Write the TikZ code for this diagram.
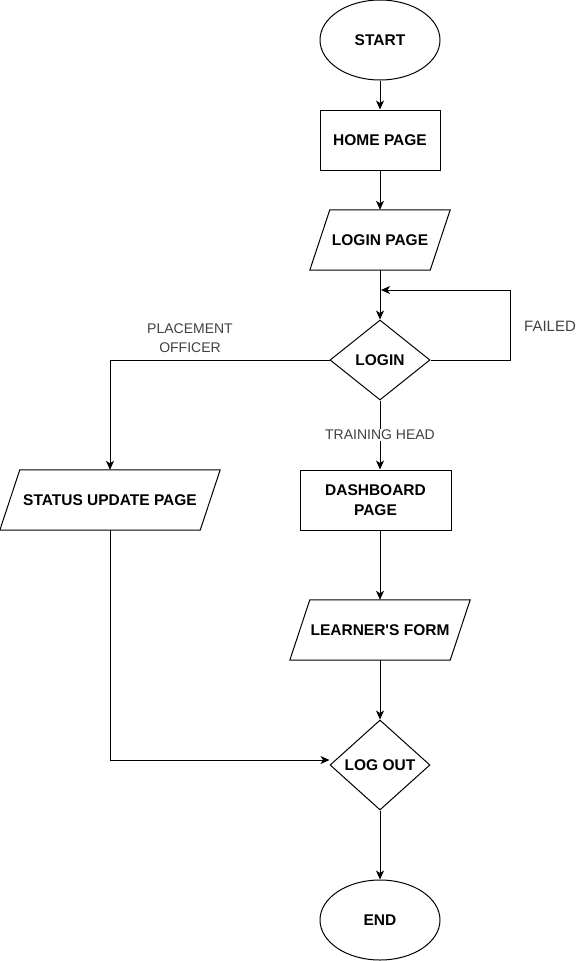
\documentclass[tikz,border=0pt]{standalone}
\usepackage{fontspec}
\setmainfont{Liberation Sans}
\newfontfamily\plainsans{Liberation Sans}
\usetikzlibrary{shapes.geometric,arrows.meta,calc}
\definecolor{lblgray}{HTML}{404040}
\tikzset{
  lbl/.style={font=\fontsize{15.5}{19.5}\selectfont\bfseries, text=black, inner sep=0pt, align=center},
  term/.style={lbl, ellipse, draw, line width=1pt, minimum width=120pt, minimum height=80pt},
  procbox/.style={lbl, rectangle, draw, line width=1pt, minimum height=60pt},
  iobox/.style={lbl, rectangle, minimum height=60pt},
  decide/.style={lbl, diamond, draw, line width=1pt, aspect=1.1, minimum width=100pt},
  conn/.style={line width=1pt, -{Stealth[length=9pt,width=8pt,inset=2.5pt]}},
  edgelbl/.style={font=\fontsize{14}{19}\selectfont, text=lblgray, inner sep=1pt, align=center},
}
\newcommand{\paral}[1]{\draw[line width=1pt] (#1.south west) -- ([xshift=20pt]#1.north west) -- (#1.north east) -- ([xshift=-20pt]#1.south east) -- cycle;}
\begin{document}
\begin{tikzpicture}[x=1pt,y=-1pt]
\useasboundingbox (0,0) rectangle (581,961);
\node[term] (start) at (380,40) {START};
\node[procbox, minimum width=120pt] (home) at (380,140) {HOME PAGE};
\node[iobox, minimum width=140pt] (lpage) at (380,240) {LOGIN PAGE};
\paral{lpage}
\node[decide, minimum height=80pt] (login) at (380,360) {LOGIN};
\node[iobox, minimum width=220pt] (status) at (110,500) {STATUS UPDATE PAGE};
\paral{status}
\node[procbox, minimum width=151pt] (dash) at (375.5,500) {DASHBOARD\\PAGE};
\node[iobox, minimum width=180pt] (learner) at (380,630) {LEARNER{\plainsans'}S FORM};
\paral{learner}
\node[decide, minimum height=90pt] (logout) at (380,765) {LOG OUT};
\node[term] (end) at (380,920) {END};

\coordinate (loopcorner) at (510,290);
\coordinate (loopend) at (381,290);

\draw[conn] (start) -- (home);
\draw[conn] (home) -- (lpage);
\draw[conn] (lpage.south) -- (login.north);
\draw[conn] (login.east) -| (loopcorner) -- (loopend);
\draw[conn] (login.west) -| (status.north);
\draw[conn] (login.south) -- (login.south |- dash.north) node[edgelbl, fill=white, pos=0.5] (th) {TRAINING HEAD};
\draw[conn] (dash.south -| learner.north) -- (learner.north);
\draw[conn] (learner) -- (logout);
\draw[conn] (status.south) |- ([yshift=5pt]logout.west);
\draw[conn] (logout) -- (end);

\node[edgelbl, font=\fontsize{15}{19}\selectfont] (failed) at (550,326) {FAILED};
\node[edgelbl] (po) at (190,338.5) {PLACEMENT\\OFFICER};
\end{tikzpicture}
\end{document}
